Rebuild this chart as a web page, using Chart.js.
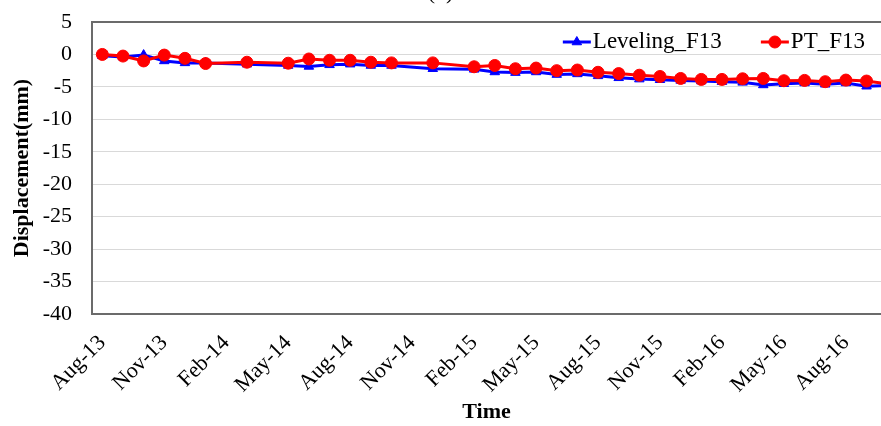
<!DOCTYPE html>
<html>
<head>
<meta charset="utf-8">
<script src="https://cdn.jsdelivr.net/npm/chart.js@4/dist/chart.umd.min.js"></script>
<style>
    body { margin: 0; background: #fff; }
    #wrap { width: 881px; height: 426px; overflow: hidden; }
    #dispChart { display: block; margin-top: -20px; }
</style>
</head>
<body>
<div id="wrap"><canvas id="dispChart" width="881" height="446"></canvas></div>
<script>
const dates = ['2013-08', '2013-09', '2013-10', '2013-11', '2013-12', '2014-01', '2014-03', '2014-05',
    '2014-06', '2014-07', '2014-08', '2014-09', '2014-10', '2014-12', '2015-02', '2015-03', '2015-04',
    '2015-05', '2015-06', '2015-07', '2015-08', '2015-09', '2015-10', '2015-11', '2015-12', '2016-01',
    '2016-02', '2016-03', '2016-04', '2016-05', '2016-06', '2016-07', '2016-08', '2016-09', '2016-10'];

const leveling = [-0.2, -0.4, -0.1, -1.0, -1.3, -1.3, -1.5, -1.7, -1.85, -1.6, -1.5, -1.7, -1.7, -2.2,
    -2.3, -2.7, -2.8, -2.7, -3.1, -3.0, -3.3, -3.6, -3.8, -3.9, -4.0, -4.1, -4.2, -4.3, -4.7, -4.5,
    -4.4, -4.6, -4.4, -4.9, -4.8];

const pt = [0.0, -0.25, -1.0, -0.1, -0.6, -1.4, -1.2, -1.35, -0.7, -0.9, -0.9, -1.2, -1.3, -1.3,
    -1.9, -1.7, -2.2, -2.1, -2.5, -2.4, -2.75, -2.95, -3.2, -3.4, -3.7, -3.85, -3.85, -3.75, -3.7,
    -4.05, -4.0, -4.2, -3.95, -4.1, -4.55];

const tickLabels = ['Aug-13', 'Nov-13', 'Feb-14', 'May-14', 'Aug-14', 'Nov-14', 'Feb-15', 'May-15',
    'Aug-15', 'Nov-15', 'Feb-16', 'May-16', 'Aug-16'];

const monthNames = ['Jan', 'Feb', 'Mar', 'Apr', 'May', 'Jun', 'Jul', 'Aug', 'Sep', 'Oct', 'Nov', 'Dec'];

// months counted from Aug 2013
function monthIndex(d) {
    const [y, m] = d.split('-').map(Number);
    return (y - 2013) * 12 + (m - 8);
}
function labelIndex(l) {
    const [mon, yy] = l.split('-');
    return (2000 + Number(yy) - 2013) * 12 + monthNames.indexOf(mon) - 7;
}

const serif = "'Liberation Serif', 'Times New Roman', serif";

const plotFrame = {
    id: 'plotFrame',
    afterDraw(chart) {
        const { ctx, chartArea } = chart;
        ctx.save();
        ctx.strokeStyle = '#6b6b6b';
        ctx.lineWidth = 2;
        ctx.beginPath();
        ctx.moveTo(chartArea.left, chartArea.top);
        ctx.lineTo(chartArea.right, chartArea.top);
        ctx.stroke();

        // legend inside the plot, top right
        ctx.font = '23px ' + serif;
        ctx.textBaseline = 'middle';
        ctx.fillStyle = '#000';
        const y = chartArea.top + 20;
        let x = chartArea.right - 16;
        const sets = chart.data.datasets.slice().reverse();
        sets.forEach(ds => {
            const w = ctx.measureText(ds.label).width;
            const textX = x - w;
            const lineEnd = textX - 2;
            const lineStart = lineEnd - 28;
            ctx.textAlign = 'left';
            ctx.fillText(ds.label, textX, y);
            ctx.strokeStyle = ds.borderColor;
            ctx.lineWidth = ds.borderWidth;
            ctx.beginPath();
            ctx.moveTo(lineStart, y);
            ctx.lineTo(lineEnd, y);
            ctx.stroke();
            ctx.fillStyle = ds.backgroundColor;
            ctx.strokeStyle = ds.borderColor;
            ctx.lineWidth = 1;
            Chart.helpers.drawPoint(ctx, { pointStyle: ds.pointStyle, radius: ds.pointRadius, rotation: 0, borderWidth: 1 }, (lineStart + lineEnd) / 2, y);
            ctx.fillStyle = '#000';
            x = lineStart - 39;
        });
        ctx.restore();
    }
};

const ctx = document.getElementById('dispChart');

new Chart(ctx, {
    type: 'line',
    data: {
        datasets: [{
            label: 'Leveling_F13',
            data: dates.map((d, i) => ({ x: monthIndex(d), y: leveling[i] })),
            borderColor: '#0000ff',
            backgroundColor: '#0000ff',
            borderWidth: 3,
            pointStyle: 'triangle',
            pointRadius: 5.5,
            pointBorderWidth: 1,
            order: 1
        },
        {
            label: 'PT_F13',
            data: dates.map((d, i) => ({ x: monthIndex(d), y: pt[i] })),
            borderColor: '#ff0000',
            backgroundColor: '#ff0000',
            borderWidth: 3,
            pointStyle: 'circle',
            pointRadius: 6,
            pointBorderWidth: 1,
            order: 0
        }]
    },
    options: {
        responsive: false,
        animation: false,
        layout: { padding: 0, autoPadding: false },
        scales: {
            x: {
                type: 'linear',
                min: -0.5,
                max: 37.7,
                afterBuildTicks: scale => {
                    scale.ticks = tickLabels.map(l => ({ value: labelIndex(l) }));
                },
                afterFit: scale => {
                    scale.height = 112;
                    scale.paddingRight = 0;
                    scale.paddingLeft = 0;
                },
                grid: { display: false, drawTicks: false },
                border: { display: true, color: '#6b6b6b', width: 2 },
                ticks: {
                    minRotation: 45,
                    maxRotation: 45,
                    autoSkip: false,
                    padding: 16,
                    color: '#000',
                    font: { family: serif, size: 22 },
                    callback: value => tickLabels.find(l => labelIndex(l) === value) || ''
                },
                title: {
                    display: true,
                    text: 'Time',
                    color: '#000',
                    padding: { top: 1, bottom: 0 },
                    font: { family: serif, size: 22, weight: 'bold' }
                }
            },
            y: {
                min: -40,
                max: 5,
                afterFit: scale => { scale.width = 92; },
                grid: { color: '#d9d9d9', lineWidth: 1, drawTicks: false },
                border: { display: true, color: '#6b6b6b', width: 2 },
                ticks: {
                    stepSize: 5,
                    padding: 20,
                    color: '#000',
                    font: { family: serif, size: 22 }
                },
                title: {
                    display: true,
                    text: 'Displacement(mm)',
                    color: '#000',
                    padding: { top: 9, bottom: 0 },
                    font: { family: serif, size: 22, weight: 'bold' }
                }
            }
        },
        plugins: {
            legend: { display: false },
            tooltip: { enabled: false },
            title: {
                display: true,
                text: '(b)',
                color: '#000',
                padding: { top: 0, bottom: 15.6 },
                font: { family: serif, size: 22, weight: 'normal' }
            }
        }
    },
    plugins: [plotFrame]
});
</script>
</body>
</html>
